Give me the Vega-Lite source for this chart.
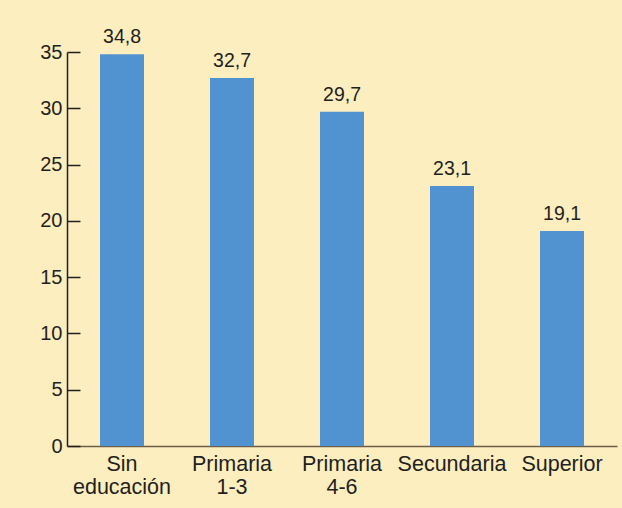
{
  "$schema": "https://vega.github.io/schema/vega-lite/v6.json",
  "width": 550,
  "height": 394,
  "padding": {"left": 67, "top": 52, "right": 5, "bottom": 62},
  "autosize": {"type": "none"},
  "background": "#FCEEBE",
  "config": {
    "view": {"stroke": null},
    "font": "Liberation Sans",
    "locale": {"number": {"decimal": ",", "thousands": ".", "grouping": [3], "currency": ["", " €"]}}
  },
  "data": {
    "values": [
      {"nivel": "Sin|educación", "valor": 34.8},
      {"nivel": "Primaria|1-3", "valor": 32.7},
      {"nivel": "Primaria|4-6", "valor": 29.7},
      {"nivel": "Secundaria", "valor": 23.1},
      {"nivel": "Superior", "valor": 19.1}
    ]
  },
  "encoding": {
    "x": {
      "field": "nivel",
      "type": "nominal",
      "sort": null,
      "scale": {"paddingInner": 0.6, "paddingOuter": 0.3},
      "axis": {
        "title": null,
        "labelAngle": 0,
        "ticks": false,
        "domainColor": "#6B5E4A",
        "domainWidth": 1.5,
        "labelFontSize": 21.5,
        "labelColor": "#231F20",
        "labelPadding": 7,
        "labelLineHeight": 23,
        "labelExpr": "split(datum.value, '|')"
      }
    }
  },
  "resolve": {"axis": {"y": "independent"}},
  "layer": [
    {
      "mark": {"type": "bar", "color": "#5193D0"},
      "encoding": {
        "y": {
          "field": "valor",
          "type": "quantitative",
          "scale": {"domain": [0, 35], "nice": false},
          "axis": {
            "title": null,
            "orient": "left",
            "values": [0, 5, 10, 15, 20, 25, 30, 35],
            "grid": false,
            "ticks": false,
            "domainColor": "#231F20",
            "domainWidth": 1.5,
            "labelFontSize": 20,
            "labelColor": "#231F20",
            "labelPadding": 5
          }
        }
      }
    },
    {
      "mark": {"type": "text", "baseline": "bottom", "dy": -7, "fontSize": 19.5, "color": "#231F20"},
      "encoding": {
        "y": {
          "field": "valor",
          "type": "quantitative",
          "scale": {"domain": [0, 35], "nice": false},
          "axis": {
            "title": null,
            "orient": "left",
            "offset": -13,
            "values": [0, 5, 10, 15, 20, 25, 30, 35],
            "grid": false,
            "domain": false,
            "labels": false,
            "tickSize": 13,
            "tickColor": "#231F20",
            "tickWidth": 1.5
          }
        },
        "text": {"field": "valor", "type": "quantitative", "format": ".1f"}
      }
    }
  ]
}
